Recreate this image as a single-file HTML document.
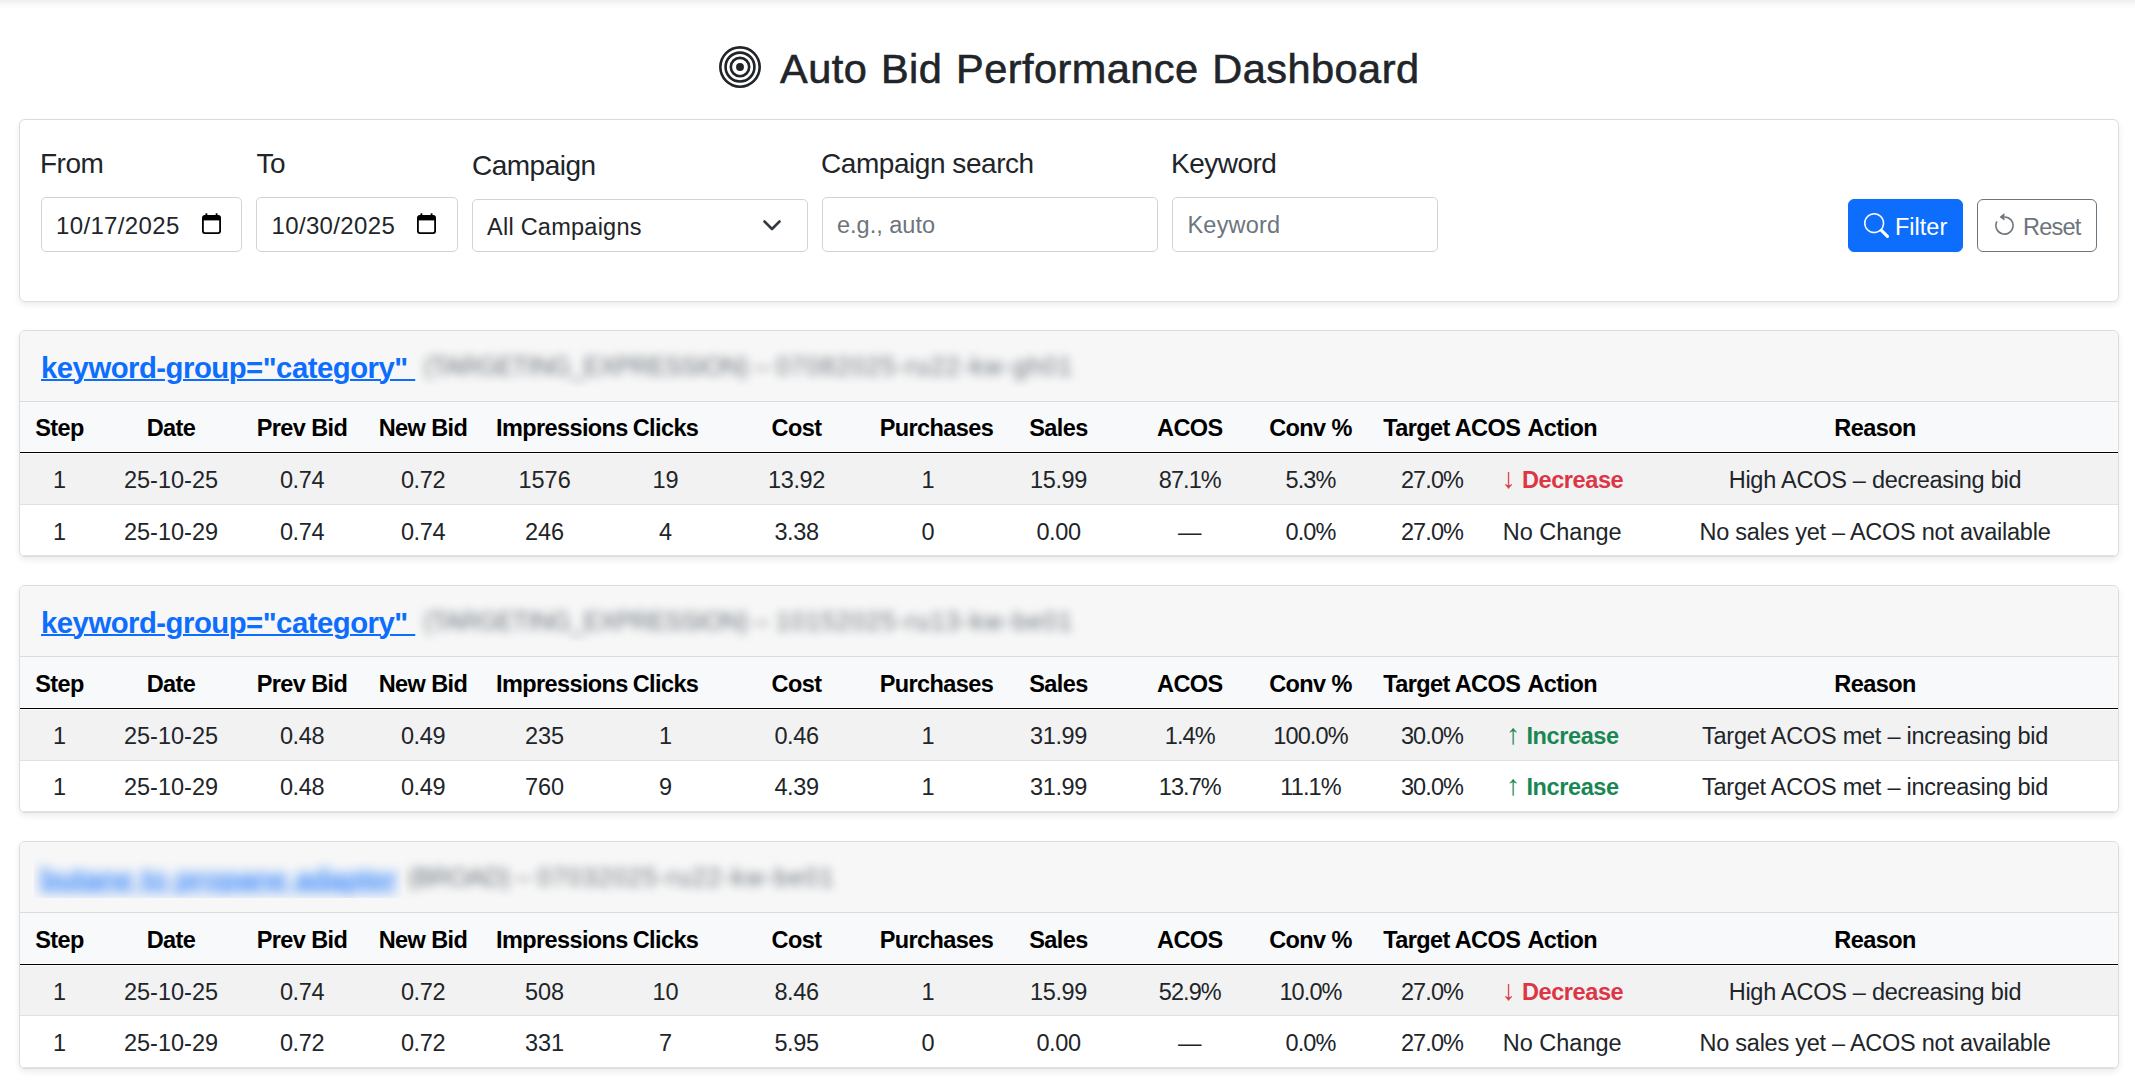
<!DOCTYPE html>
<html lang="en"><head><meta charset="utf-8"><title>Auto Bid Performance Dashboard</title>
<style>
*{box-sizing:border-box;margin:0;padding:0}
html,body{width:2135px;height:1083px;overflow:hidden;background:#fff}
body{position:relative;font-family:"Liberation Sans", Arial, sans-serif;color:#212529;}
.t{position:absolute;white-space:nowrap;font-weight:400}
h3.t{font-weight:400}
.ctr{transform:translateX(-50%)}
.shade{position:absolute;left:0;top:0;width:2135px;height:10px;background:linear-gradient(#efefef,#fafafa 50%,#fff)}
.card{position:absolute;left:19px;width:2100px;border:1px solid #dcdcdc;border-radius:6px;background:#fff;box-shadow:0 3px 6px rgba(0,0,0,.075);overflow:hidden}
.inp{position:absolute;border:1px solid #ced4da;border-radius:5px;background:#fff}
.lbl{letter-spacing:-0.5px;color:#212529}
.ph{color:#6c757d}
.btnp{position:absolute;background:#0d6efd;border:1px solid #0d6efd;border-radius:6px}
.btno{position:absolute;background:#fff;border:1px solid #6c757d;border-radius:6px}
.hdr{position:absolute;left:0;width:2098px;background:#f7f7f7;border-bottom:1px solid #dcdcdc}
.thd{position:absolute;left:0;width:2098px;background:#f8f9fa}
.div3{position:absolute;left:0;width:2098px;height:3px;background:linear-gradient(#fff 0,#fff 1px,#000 1px,#000 2px,#fff 2px)}
.r1{position:absolute;left:0;width:2098px;background:#f2f2f2}
.rb{position:absolute;left:0;width:2098px;height:1px;background:#dee2e6}
.th{font-weight:bold;color:#000;letter-spacing:-0.6px}
.link{font-weight:bold;color:#0d6efd;text-decoration:underline;text-underline-offset:0.5px;text-decoration-thickness:1.5px;letter-spacing:-0.5px}
.blur{filter:blur(5px);color:#6c757d;letter-spacing:0.45px}
.link.blur{filter:blur(6px);letter-spacing:-0.5px;opacity:.8}
.dec{color:#dc3545} .inc{color:#198754}
.arr{font-size:28.5px;line-height:0}
.dec b,.inc b{font-weight:bold;letter-spacing:-0.4px}
</style></head><body>
<div class="shade"></div>

<svg style="position:absolute;left:719px;top:46px" width="42" height="42" viewBox="0 0 16 16" fill="#212529"><path d="M8 15A7 7 0 1 1 8 1a7 7 0 0 1 0 14m0 1A8 8 0 1 0 8 0a8 8 0 0 0 0 16"/><path d="M8 13A5 5 0 1 1 8 3a5 5 0 0 1 0 10m0 1A6 6 0 1 0 8 2a6 6 0 0 0 0 12"/><path d="M8 11a3 3 0 1 1 0-6 3 3 0 0 1 0 6m0 1a4 4 0 1 0 0-8 4 4 0 0 0 0 8"/><path d="M9.5 8a1.5 1.5 0 1 1-3 0 1.5 1.5 0 0 1 3 0"/></svg>
<h3 class="t h2" style="left:780px;top:47.87px;font-size:41.5px;line-height:41.5px;letter-spacing:0.45px;word-spacing:1.8px;-webkit-text-stroke:0.6px #212529;">Auto Bid Performance Dashboard</h3>
<div class="card" style="top:119px;height:183px"></div>
<label class="t lbl" style="left:40px;top:150.30px;font-size:28px;line-height:28px;">From</label>
<label class="t lbl" style="left:256.5px;top:150.30px;font-size:28px;line-height:28px;">To</label>
<label class="t lbl" style="left:472px;top:151.50px;font-size:28px;line-height:28px;">Campaign</label>
<label class="t lbl" style="left:821px;top:150.30px;font-size:28px;line-height:28px;letter-spacing:-0.45px">Campaign search</label>
<label class="t lbl" style="left:1171px;top:150.30px;font-size:28px;line-height:28px;">Keyword</label>
<div class="inp" style="left:41px;top:197px;width:201px;height:55px"></div>
<div class="t " style="left:56px;top:214.18px;font-size:24px;line-height:24px;color:#212529;letter-spacing:0.35px">10/17/2025</div>
<svg style="position:absolute;left:202px;top:213px" width="19" height="21" viewBox="0 0 19 21"><rect x="0.9" y="2.9" width="17.2" height="17.2" rx="2" fill="none" stroke="#000" stroke-width="1.8"/><rect x="0.9" y="2.9" width="17.2" height="4.5" fill="#000"/><rect x="3.5" y="0.3" width="1.8" height="3.5" fill="#000"/><rect x="13.7" y="0.3" width="1.8" height="3.5" fill="#000"/></svg>
<div class="inp" style="left:256px;top:197px;width:202px;height:55px"></div>
<div class="t " style="left:271.5px;top:214.18px;font-size:24px;line-height:24px;color:#212529;letter-spacing:0.35px">10/30/2025</div>
<svg style="position:absolute;left:417px;top:213px" width="19" height="21" viewBox="0 0 19 21"><rect x="0.9" y="2.9" width="17.2" height="17.2" rx="2" fill="none" stroke="#000" stroke-width="1.8"/><rect x="0.9" y="2.9" width="17.2" height="4.5" fill="#000"/><rect x="3.5" y="0.3" width="1.8" height="3.5" fill="#000"/><rect x="13.7" y="0.3" width="1.8" height="3.5" fill="#000"/></svg>
<div class="inp" style="left:472px;top:199px;width:336px;height:53px"></div>
<div class="t " style="left:487px;top:215.61px;font-size:23.5px;line-height:23.5px;letter-spacing:0.25px">All Campaigns</div>
<svg style="position:absolute;left:760px;top:216px" width="24" height="18" viewBox="0 0 24 18"><path d="M4.5 5.5 L12 13 L19.5 5.5" fill="none" stroke="#343a40" stroke-width="2.6" stroke-linecap="round" stroke-linejoin="round"/></svg>
<div class="inp" style="left:822px;top:197px;width:336px;height:55px"></div>
<div class="t ph" style="left:837px;top:214.31px;font-size:23.5px;line-height:23.5px;">e.g., auto</div>
<div class="inp" style="left:1172px;top:197px;width:266px;height:55px"></div>
<div class="t ph" style="left:1187.5px;top:214.21px;font-size:23.5px;line-height:23.5px;letter-spacing:0.2px">Keyword</div>
<div class="btnp" style="left:1848px;top:199px;width:115px;height:53px"></div>
<svg style="position:absolute;left:1863.5px;top:213px" width="25" height="25" viewBox="0 0 16 16" fill="#fff"><path d="M11.742 10.344a6.5 6.5 0 1 0-1.397 1.398h-.001q.044.06.098.115l3.85 3.85a1 1 0 0 0 1.415-1.414l-3.85-3.85a1 1 0 0 0-.115-.1zM12 6.5a5.5 5.5 0 1 1-11 0 5.5 5.5 0 0 1 11 0"/></svg>
<div class="t " style="left:1895px;top:216.11px;font-size:23.5px;line-height:23.5px;color:#fff">Filter</div>
<div class="btno" style="left:1977px;top:199px;width:120px;height:53px"></div>
<svg style="position:absolute;left:1992px;top:213px" width="25" height="25" viewBox="0 0 16 16" fill="#6c757d"><path fill-rule="evenodd" d="M8 3a5 5 0 1 1-4.546 2.914.5.5 0 0 0-.908-.417A6 6 0 1 0 8 2z"/><path d="M8 4.466V.534a.25.25 0 0 0-.41-.192L5.23 2.308a.25.25 0 0 0 0 .384l2.36 1.966A.25.25 0 0 0 8 4.466"/></svg>
<div class="t " style="left:2023px;top:216.11px;font-size:23.5px;line-height:23.5px;color:#6c757d;letter-spacing:-0.8px">Reset</div>
<div class="card" style="top:330px;height:227px">
<div class="hdr" style="top:0;height:71px"></div>
<div class="thd" style="top:71px;height:49px"></div>
<div class="div3" style="top:120px"></div>
<div class="r1" style="top:123px;height:50px"></div>
<div class="rb" style="top:173px"></div>
<div class="rb" style="top:224px"></div>
<div class="t link" style="left:21px;top:22.00px;font-size:29.3px;line-height:29.3px;">keyword-group="category"&nbsp;</div>
<div style="position:absolute;overflow:hidden;left:396px;top:15px;width:667px;height:41px"><div class="t blur" style="left:8px;top:8.14px;font-size:25px;line-height:25px;letter-spacing:0"><span style="letter-spacing:-0.6px">(TARGETING_EXPRESSION)</span> – <span style="letter-spacing:1.2px">07082025-ru22-kw-gh01</span></div></div>
<div class="t th ctr" style="left:39.5px;top:86.11px;font-size:23.5px;line-height:23.5px;">Step</div>
<div class="t th ctr" style="left:151px;top:86.11px;font-size:23.5px;line-height:23.5px;">Date</div>
<div class="t th ctr" style="left:282px;top:86.11px;font-size:23.5px;line-height:23.5px;">Prev Bid</div>
<div class="t th ctr" style="left:403px;top:86.11px;font-size:23.5px;line-height:23.5px;">New Bid</div>
<div class="t th" style="left:476px;top:86.11px;font-size:23.5px;line-height:23.5px;">Impressions</div>
<div class="t th ctr" style="left:645.5px;top:86.11px;font-size:23.5px;line-height:23.5px;">Clicks</div>
<div class="t th ctr" style="left:776.5px;top:86.11px;font-size:23.5px;line-height:23.5px;">Cost</div>
<div class="t th" style="left:859.7px;top:86.11px;font-size:23.5px;line-height:23.5px;">Purchases</div>
<div class="t th ctr" style="left:1038.5px;top:86.11px;font-size:23.5px;line-height:23.5px;">Sales</div>
<div class="t th ctr" style="left:1169.8px;top:86.11px;font-size:23.5px;line-height:23.5px;">ACOS</div>
<div class="t th ctr" style="left:1290.5px;top:86.11px;font-size:23.5px;line-height:23.5px;">Conv %</div>
<div class="t th" style="left:1363.2px;top:86.11px;font-size:23.5px;line-height:23.5px;">Target ACOS</div>
<div class="t th ctr" style="left:1542.2px;top:86.11px;font-size:23.5px;line-height:23.5px;">Action</div>
<div class="t th ctr" style="left:1855px;top:86.11px;font-size:23.5px;line-height:23.5px;">Reason</div>
<div class="t  ctr" style="left:39.5px;top:138.41px;font-size:23.5px;line-height:23.5px;">1</div>
<div class="t  ctr" style="left:151px;top:138.41px;font-size:23.5px;line-height:23.5px;">25-10-25</div>
<div class="t  ctr" style="left:282px;top:138.41px;font-size:23.5px;line-height:23.5px;letter-spacing:-0.4px;">0.74</div>
<div class="t  ctr" style="left:403px;top:138.41px;font-size:23.5px;line-height:23.5px;letter-spacing:-0.4px;">0.72</div>
<div class="t  ctr" style="left:524.6px;top:138.41px;font-size:23.5px;line-height:23.5px;">1576</div>
<div class="t  ctr" style="left:645.5px;top:138.41px;font-size:23.5px;line-height:23.5px;">19</div>
<div class="t  ctr" style="left:776.5px;top:138.41px;font-size:23.5px;line-height:23.5px;letter-spacing:-0.4px;">13.92</div>
<div class="t  ctr" style="left:908px;top:138.41px;font-size:23.5px;line-height:23.5px;">1</div>
<div class="t  ctr" style="left:1038.5px;top:138.41px;font-size:23.5px;line-height:23.5px;letter-spacing:-0.4px;">15.99</div>
<div class="t  ctr" style="left:1169.8px;top:138.41px;font-size:23.5px;line-height:23.5px;letter-spacing:-0.9px;">87.1%</div>
<div class="t  ctr" style="left:1290.5px;top:138.41px;font-size:23.5px;line-height:23.5px;letter-spacing:-0.9px;">5.3%</div>
<div class="t  ctr" style="left:1412px;top:138.41px;font-size:23.5px;line-height:23.5px;letter-spacing:-0.9px;">27.0%</div>
<div class="t  ctr" style="left:1542.2px;top:138.41px;font-size:23.5px;line-height:23.5px;"><span class="dec"><span class="arr">↓</span> <b>Decrease</b></span></div>
<div class="t  ctr" style="left:1855px;top:138.41px;font-size:23.5px;line-height:23.5px;letter-spacing:-0.25px;">High ACOS – decreasing bid</div>
<div class="t  ctr" style="left:39.5px;top:189.91px;font-size:23.5px;line-height:23.5px;">1</div>
<div class="t  ctr" style="left:151px;top:189.91px;font-size:23.5px;line-height:23.5px;">25-10-29</div>
<div class="t  ctr" style="left:282px;top:189.91px;font-size:23.5px;line-height:23.5px;letter-spacing:-0.4px;">0.74</div>
<div class="t  ctr" style="left:403px;top:189.91px;font-size:23.5px;line-height:23.5px;letter-spacing:-0.4px;">0.74</div>
<div class="t  ctr" style="left:524.6px;top:189.91px;font-size:23.5px;line-height:23.5px;">246</div>
<div class="t  ctr" style="left:645.5px;top:189.91px;font-size:23.5px;line-height:23.5px;">4</div>
<div class="t  ctr" style="left:776.5px;top:189.91px;font-size:23.5px;line-height:23.5px;letter-spacing:-0.4px;">3.38</div>
<div class="t  ctr" style="left:908px;top:189.91px;font-size:23.5px;line-height:23.5px;">0</div>
<div class="t  ctr" style="left:1038.5px;top:189.91px;font-size:23.5px;line-height:23.5px;letter-spacing:-0.4px;">0.00</div>
<div class="t  ctr" style="left:1169.8px;top:189.91px;font-size:23.5px;line-height:23.5px;">—</div>
<div class="t  ctr" style="left:1290.5px;top:189.91px;font-size:23.5px;line-height:23.5px;letter-spacing:-0.9px;">0.0%</div>
<div class="t  ctr" style="left:1412px;top:189.91px;font-size:23.5px;line-height:23.5px;letter-spacing:-0.9px;">27.0%</div>
<div class="t  ctr" style="left:1542.2px;top:189.91px;font-size:23.5px;line-height:23.5px;">No Change</div>
<div class="t  ctr" style="left:1855px;top:189.91px;font-size:23.5px;line-height:23.5px;letter-spacing:-0.25px;">No sales yet – ACOS not available</div>
</div>
<div class="card" style="top:585px;height:228px">
<div class="hdr" style="top:0;height:71px"></div>
<div class="thd" style="top:71px;height:50px"></div>
<div class="div3" style="top:121px"></div>
<div class="r1" style="top:124px;height:50px"></div>
<div class="rb" style="top:174px"></div>
<div class="rb" style="top:225px"></div>
<div class="t link" style="left:21px;top:22.00px;font-size:29.3px;line-height:29.3px;">keyword-group="category"&nbsp;</div>
<div style="position:absolute;overflow:hidden;left:396px;top:15px;width:667px;height:41px"><div class="t blur" style="left:8px;top:8.14px;font-size:25px;line-height:25px;letter-spacing:0"><span style="letter-spacing:-0.6px">(TARGETING_EXPRESSION)</span> – <span style="letter-spacing:1.2px">10152025-ru13-kw-be01</span></div></div>
<div class="t th ctr" style="left:39.5px;top:87.11px;font-size:23.5px;line-height:23.5px;">Step</div>
<div class="t th ctr" style="left:151px;top:87.11px;font-size:23.5px;line-height:23.5px;">Date</div>
<div class="t th ctr" style="left:282px;top:87.11px;font-size:23.5px;line-height:23.5px;">Prev Bid</div>
<div class="t th ctr" style="left:403px;top:87.11px;font-size:23.5px;line-height:23.5px;">New Bid</div>
<div class="t th" style="left:476px;top:87.11px;font-size:23.5px;line-height:23.5px;">Impressions</div>
<div class="t th ctr" style="left:645.5px;top:87.11px;font-size:23.5px;line-height:23.5px;">Clicks</div>
<div class="t th ctr" style="left:776.5px;top:87.11px;font-size:23.5px;line-height:23.5px;">Cost</div>
<div class="t th" style="left:859.7px;top:87.11px;font-size:23.5px;line-height:23.5px;">Purchases</div>
<div class="t th ctr" style="left:1038.5px;top:87.11px;font-size:23.5px;line-height:23.5px;">Sales</div>
<div class="t th ctr" style="left:1169.8px;top:87.11px;font-size:23.5px;line-height:23.5px;">ACOS</div>
<div class="t th ctr" style="left:1290.5px;top:87.11px;font-size:23.5px;line-height:23.5px;">Conv %</div>
<div class="t th" style="left:1363.2px;top:87.11px;font-size:23.5px;line-height:23.5px;">Target ACOS</div>
<div class="t th ctr" style="left:1542.2px;top:87.11px;font-size:23.5px;line-height:23.5px;">Action</div>
<div class="t th ctr" style="left:1855px;top:87.11px;font-size:23.5px;line-height:23.5px;">Reason</div>
<div class="t  ctr" style="left:39.5px;top:139.41px;font-size:23.5px;line-height:23.5px;">1</div>
<div class="t  ctr" style="left:151px;top:139.41px;font-size:23.5px;line-height:23.5px;">25-10-25</div>
<div class="t  ctr" style="left:282px;top:139.41px;font-size:23.5px;line-height:23.5px;letter-spacing:-0.4px;">0.48</div>
<div class="t  ctr" style="left:403px;top:139.41px;font-size:23.5px;line-height:23.5px;letter-spacing:-0.4px;">0.49</div>
<div class="t  ctr" style="left:524.6px;top:139.41px;font-size:23.5px;line-height:23.5px;">235</div>
<div class="t  ctr" style="left:645.5px;top:139.41px;font-size:23.5px;line-height:23.5px;">1</div>
<div class="t  ctr" style="left:776.5px;top:139.41px;font-size:23.5px;line-height:23.5px;letter-spacing:-0.4px;">0.46</div>
<div class="t  ctr" style="left:908px;top:139.41px;font-size:23.5px;line-height:23.5px;">1</div>
<div class="t  ctr" style="left:1038.5px;top:139.41px;font-size:23.5px;line-height:23.5px;letter-spacing:-0.4px;">31.99</div>
<div class="t  ctr" style="left:1169.8px;top:139.41px;font-size:23.5px;line-height:23.5px;letter-spacing:-0.9px;">1.4%</div>
<div class="t  ctr" style="left:1290.5px;top:139.41px;font-size:23.5px;line-height:23.5px;letter-spacing:-0.9px;">100.0%</div>
<div class="t  ctr" style="left:1412px;top:139.41px;font-size:23.5px;line-height:23.5px;letter-spacing:-0.9px;">30.0%</div>
<div class="t  ctr" style="left:1542.2px;top:139.41px;font-size:23.5px;line-height:23.5px;"><span class="inc"><span class="arr">↑</span> <b>Increase</b></span></div>
<div class="t  ctr" style="left:1855px;top:139.41px;font-size:23.5px;line-height:23.5px;letter-spacing:-0.25px;">Target ACOS met – increasing bid</div>
<div class="t  ctr" style="left:39.5px;top:189.91px;font-size:23.5px;line-height:23.5px;">1</div>
<div class="t  ctr" style="left:151px;top:189.91px;font-size:23.5px;line-height:23.5px;">25-10-29</div>
<div class="t  ctr" style="left:282px;top:189.91px;font-size:23.5px;line-height:23.5px;letter-spacing:-0.4px;">0.48</div>
<div class="t  ctr" style="left:403px;top:189.91px;font-size:23.5px;line-height:23.5px;letter-spacing:-0.4px;">0.49</div>
<div class="t  ctr" style="left:524.6px;top:189.91px;font-size:23.5px;line-height:23.5px;">760</div>
<div class="t  ctr" style="left:645.5px;top:189.91px;font-size:23.5px;line-height:23.5px;">9</div>
<div class="t  ctr" style="left:776.5px;top:189.91px;font-size:23.5px;line-height:23.5px;letter-spacing:-0.4px;">4.39</div>
<div class="t  ctr" style="left:908px;top:189.91px;font-size:23.5px;line-height:23.5px;">1</div>
<div class="t  ctr" style="left:1038.5px;top:189.91px;font-size:23.5px;line-height:23.5px;letter-spacing:-0.4px;">31.99</div>
<div class="t  ctr" style="left:1169.8px;top:189.91px;font-size:23.5px;line-height:23.5px;letter-spacing:-0.9px;">13.7%</div>
<div class="t  ctr" style="left:1290.5px;top:189.91px;font-size:23.5px;line-height:23.5px;letter-spacing:-0.9px;">11.1%</div>
<div class="t  ctr" style="left:1412px;top:189.91px;font-size:23.5px;line-height:23.5px;letter-spacing:-0.9px;">30.0%</div>
<div class="t  ctr" style="left:1542.2px;top:189.91px;font-size:23.5px;line-height:23.5px;"><span class="inc"><span class="arr">↑</span> <b>Increase</b></span></div>
<div class="t  ctr" style="left:1855px;top:189.91px;font-size:23.5px;line-height:23.5px;letter-spacing:-0.25px;">Target ACOS met – increasing bid</div>
</div>
<div class="card" style="top:841px;height:228px">
<div class="hdr" style="top:0;height:71px"></div>
<div class="thd" style="top:71px;height:50px"></div>
<div class="div3" style="top:121px"></div>
<div class="r1" style="top:124px;height:49px"></div>
<div class="rb" style="top:173px"></div>
<div class="rb" style="top:225px"></div>
<div style="position:absolute;overflow:hidden;left:14px;top:15px;width:369px;height:41px"><div class="t link blur" style="left:6px;top:7.00px;font-size:29.3px;line-height:29.3px;color:#0d6efd">butane to propane adapter</div></div>
<div style="position:absolute;overflow:hidden;left:383px;top:15px;width:440px;height:41px"><div class="t blur" style="left:5px;top:8.14px;font-size:25px;line-height:25px;letter-spacing:0"><span style="letter-spacing:-0.6px">(BROAD)</span> – <span style="letter-spacing:1.2px">07032025-ru22-kw-be01</span></div></div>
<div class="t th ctr" style="left:39.5px;top:87.11px;font-size:23.5px;line-height:23.5px;">Step</div>
<div class="t th ctr" style="left:151px;top:87.11px;font-size:23.5px;line-height:23.5px;">Date</div>
<div class="t th ctr" style="left:282px;top:87.11px;font-size:23.5px;line-height:23.5px;">Prev Bid</div>
<div class="t th ctr" style="left:403px;top:87.11px;font-size:23.5px;line-height:23.5px;">New Bid</div>
<div class="t th" style="left:476px;top:87.11px;font-size:23.5px;line-height:23.5px;">Impressions</div>
<div class="t th ctr" style="left:645.5px;top:87.11px;font-size:23.5px;line-height:23.5px;">Clicks</div>
<div class="t th ctr" style="left:776.5px;top:87.11px;font-size:23.5px;line-height:23.5px;">Cost</div>
<div class="t th" style="left:859.7px;top:87.11px;font-size:23.5px;line-height:23.5px;">Purchases</div>
<div class="t th ctr" style="left:1038.5px;top:87.11px;font-size:23.5px;line-height:23.5px;">Sales</div>
<div class="t th ctr" style="left:1169.8px;top:87.11px;font-size:23.5px;line-height:23.5px;">ACOS</div>
<div class="t th ctr" style="left:1290.5px;top:87.11px;font-size:23.5px;line-height:23.5px;">Conv %</div>
<div class="t th" style="left:1363.2px;top:87.11px;font-size:23.5px;line-height:23.5px;">Target ACOS</div>
<div class="t th ctr" style="left:1542.2px;top:87.11px;font-size:23.5px;line-height:23.5px;">Action</div>
<div class="t th ctr" style="left:1855px;top:87.11px;font-size:23.5px;line-height:23.5px;">Reason</div>
<div class="t  ctr" style="left:39.5px;top:139.41px;font-size:23.5px;line-height:23.5px;">1</div>
<div class="t  ctr" style="left:151px;top:139.41px;font-size:23.5px;line-height:23.5px;">25-10-25</div>
<div class="t  ctr" style="left:282px;top:139.41px;font-size:23.5px;line-height:23.5px;letter-spacing:-0.4px;">0.74</div>
<div class="t  ctr" style="left:403px;top:139.41px;font-size:23.5px;line-height:23.5px;letter-spacing:-0.4px;">0.72</div>
<div class="t  ctr" style="left:524.6px;top:139.41px;font-size:23.5px;line-height:23.5px;">508</div>
<div class="t  ctr" style="left:645.5px;top:139.41px;font-size:23.5px;line-height:23.5px;">10</div>
<div class="t  ctr" style="left:776.5px;top:139.41px;font-size:23.5px;line-height:23.5px;letter-spacing:-0.4px;">8.46</div>
<div class="t  ctr" style="left:908px;top:139.41px;font-size:23.5px;line-height:23.5px;">1</div>
<div class="t  ctr" style="left:1038.5px;top:139.41px;font-size:23.5px;line-height:23.5px;letter-spacing:-0.4px;">15.99</div>
<div class="t  ctr" style="left:1169.8px;top:139.41px;font-size:23.5px;line-height:23.5px;letter-spacing:-0.9px;">52.9%</div>
<div class="t  ctr" style="left:1290.5px;top:139.41px;font-size:23.5px;line-height:23.5px;letter-spacing:-0.9px;">10.0%</div>
<div class="t  ctr" style="left:1412px;top:139.41px;font-size:23.5px;line-height:23.5px;letter-spacing:-0.9px;">27.0%</div>
<div class="t  ctr" style="left:1542.2px;top:139.41px;font-size:23.5px;line-height:23.5px;"><span class="dec"><span class="arr">↓</span> <b>Decrease</b></span></div>
<div class="t  ctr" style="left:1855px;top:139.41px;font-size:23.5px;line-height:23.5px;letter-spacing:-0.25px;">High ACOS – decreasing bid</div>
<div class="t  ctr" style="left:39.5px;top:189.91px;font-size:23.5px;line-height:23.5px;">1</div>
<div class="t  ctr" style="left:151px;top:189.91px;font-size:23.5px;line-height:23.5px;">25-10-29</div>
<div class="t  ctr" style="left:282px;top:189.91px;font-size:23.5px;line-height:23.5px;letter-spacing:-0.4px;">0.72</div>
<div class="t  ctr" style="left:403px;top:189.91px;font-size:23.5px;line-height:23.5px;letter-spacing:-0.4px;">0.72</div>
<div class="t  ctr" style="left:524.6px;top:189.91px;font-size:23.5px;line-height:23.5px;">331</div>
<div class="t  ctr" style="left:645.5px;top:189.91px;font-size:23.5px;line-height:23.5px;">7</div>
<div class="t  ctr" style="left:776.5px;top:189.91px;font-size:23.5px;line-height:23.5px;letter-spacing:-0.4px;">5.95</div>
<div class="t  ctr" style="left:908px;top:189.91px;font-size:23.5px;line-height:23.5px;">0</div>
<div class="t  ctr" style="left:1038.5px;top:189.91px;font-size:23.5px;line-height:23.5px;letter-spacing:-0.4px;">0.00</div>
<div class="t  ctr" style="left:1169.8px;top:189.91px;font-size:23.5px;line-height:23.5px;">—</div>
<div class="t  ctr" style="left:1290.5px;top:189.91px;font-size:23.5px;line-height:23.5px;letter-spacing:-0.9px;">0.0%</div>
<div class="t  ctr" style="left:1412px;top:189.91px;font-size:23.5px;line-height:23.5px;letter-spacing:-0.9px;">27.0%</div>
<div class="t  ctr" style="left:1542.2px;top:189.91px;font-size:23.5px;line-height:23.5px;">No Change</div>
<div class="t  ctr" style="left:1855px;top:189.91px;font-size:23.5px;line-height:23.5px;letter-spacing:-0.25px;">No sales yet – ACOS not available</div>
</div>
</body></html>
